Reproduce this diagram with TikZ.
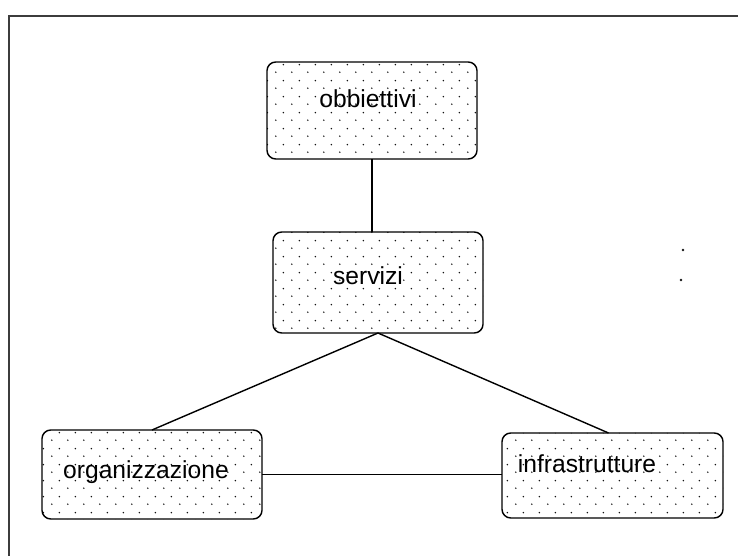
\documentclass[tikz,border=0pt]{standalone}
\usepackage{fontspec}
\setmainfont{Liberation Sans}
\usetikzlibrary{patterns,calc}
\definecolor{grigioCornice}{RGB}{60,60,60}
\definecolor{neroPunti}{RGB}{20,20,20}
\pgfdeclarepatternformonly{puntini}{\pgfqpoint{0pt}{0pt}}{\pgfqpoint{11.38pt}{11.38pt}}{\pgfqpoint{11.38pt}{11.38pt}}{%
  \pgfpathcircle{\pgfqpoint{2.85pt}{2.85pt}}{0.62pt}%
  \pgfpathcircle{\pgfqpoint{8.54pt}{8.54pt}}{0.62pt}%
  \pgfusepath{fill}}

\begin{document}
\begin{tikzpicture}[x=0.025cm, y=-0.025cm,
      blocco/.style  = {rectangle, rounded corners=0.22cm, draw=black, line width=1pt,
          pattern=puntini, pattern color=neroPunti, outer sep=0pt, inner sep=0pt},
      testo/.style   = {font=\fontsize{17.5}{21}\selectfont, anchor=base, inner sep=0pt},
      nesso/.style   = {draw=black, line width=1pt},
      cornice/.style = {draw=grigioCornice, line width=1.4pt},
    ]
    \clip (0,0) rectangle (738,556);
    % ── Cornice ──────────────────────────────────────────────────
    \draw[cornice] (9,16) rectangle (780,600);

    % ── Blocchi ──────────────────────────────────────────────────
    \node[blocco, minimum width=5.25cm,  minimum height=2.425cm] (obb)   at (372,110.5) {};
    \node[blocco, minimum width=5.25cm,  minimum height=2.525cm] (serv)  at (378,282.5) {};
    \node[blocco, minimum width=5.5cm,   minimum height=2.225cm] (org)   at (152,474.5) {};
    \node[blocco, minimum width=5.525cm, minimum height=2.125cm] (infra) at (612.5,475.5) {};

    % ── Testi ────────────────────────────────────────────────────
    \node[testo] (obbT)   at (368,108) {obbiettivi};
    \node[testo] (servT)  at (368,285) {servizi};
    \node[testo] (orgT)   at (146,479) {organizzazione};
    \node[testo] (infraT) at (587,473) {infrastrutture};

    % ── Collegamenti ─────────────────────────────────────────────
    \draw[nesso] (obb.south) -- (obb.south |- serv.north);
    \draw[nesso] (serv.south) -- (org.north);
    \draw[nesso] (serv.south) -- ($(infra.north)+(-4,0)$);
    \draw[nesso] (org.east) -- (org.east -| infra.west);

    % ── Punti isolati ────────────────────────────────────────────
    \fill[neroPunti] (683,250) circle[radius=0.035cm];
    \fill[neroPunti] (681,280) circle[radius=0.035cm];
  \end{tikzpicture}
\end{document}
